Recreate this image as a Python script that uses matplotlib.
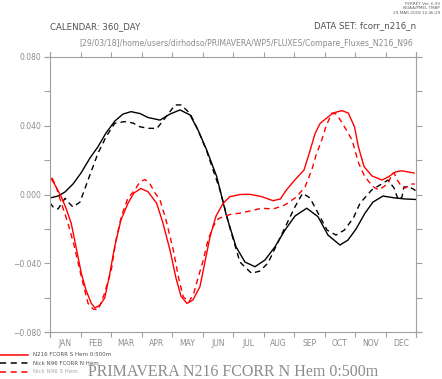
import numpy as np
import matplotlib
matplotlib.use('Agg')
from matplotlib import pyplot as plt
from matplotlib.ticker import FixedLocator, FuncFormatter, NullFormatter

# day of the 360-day year
n216_nh_day = [0, 7.9, 14.8, 22.6, 30.5, 39.3, 47.2, 55.1, 63.9, 71.8, 79.7, 88.5, 96.4, 108.2,
               118.0, 127.9, 137.7, 145.6, 154.1, 164.0, 173.8, 183.0, 191.8, 201.6, 211.5, 221.3,
               231.1, 241.0, 252.5, 263.6, 273.4, 285.2, 293.1, 301.0, 309.9, 317.7, 327.5, 339.3,
               349.2, 360.0]
n216_nh_val = [-0.0020, -0.0009, 0.0015, 0.0061, 0.0125, 0.0212, 0.0278, 0.0358, 0.0428, 0.0468,
               0.0482, 0.0471, 0.0448, 0.0433, 0.0468, 0.0492, 0.0463, 0.0375, 0.0259, 0.0104,
               -0.0129, -0.0305, -0.0393, -0.0420, -0.0381, -0.0304, -0.0207, -0.0125, -0.0080,
               -0.0129, -0.0236, -0.0294, -0.0265, -0.0201, -0.0108, -0.0044, -0.0009, -0.0020,
               -0.0026, -0.0029]

n96_nh_day = [0, 3.9, 7.9, 11.8, 14.8, 18.7, 22.6, 29.5, 37.4, 47.2, 55.1, 63.6, 73.4, 81.6,
              88.5, 96.4, 105.3, 113.2, 123.0, 128.9, 137.7, 145.6, 154.1, 167.2, 177.0, 186.8,
              198.3, 206.5, 214.4, 226.2, 241.0, 248.5, 255.7, 263.6, 272.5, 281.3, 289.5, 298.4,
              304.9, 316.4, 332.5, 338.4, 342.6, 346.2, 348.1, 353.0, 357.9, 360.0]
n96_nh_val = [-0.0049, -0.0079, -0.0084, -0.0049, -0.0022, -0.0049, -0.0073, -0.0044, 0.0084,
              0.0240, 0.0335, 0.0414, 0.0424, 0.0416, 0.0394, 0.0385, 0.0385, 0.0445, 0.0521,
              0.0521, 0.0472, 0.0375, 0.0253, 0.0026, -0.0195, -0.0393, -0.0459, -0.0445, -0.0399,
              -0.0253, -0.0071, 0.0007, -0.0020, -0.0108, -0.0207, -0.0236, -0.0207, -0.0137,
              -0.0051, 0.0026, 0.0084, 0.0038, -0.0032, -0.0015, 0.0044, 0.0044, 0.0030, 0.0020]

n216_sh_day = [0, 4.9, 11.1, 15.7, 20.9, 25.6, 30.8, 35.4, 40.6, 44.3, 49.2, 53.8, 58.0, 63.6,
               69.8, 76.7, 82.6, 89.5, 96.4, 104.9, 111.1, 118.0, 123.9, 128.8, 134.7, 140.6,
               147.5, 152.4, 157.4, 163.3, 170.3, 176.9, 186.8, 196.7, 207.9, 219.4, 226.6, 232.5,
               240.0, 249.9, 254.8, 260.8, 265.7, 278.3, 287.2, 293.4, 299.5, 303.4, 308.9, 316.7,
               326.6, 333.2, 339.7, 345.9, 358.0]
n216_sh_val = [0.0104, 0.0055, -0.0013, -0.0079, -0.0168, -0.0305, -0.0458, -0.0556, -0.0633,
               -0.0660, -0.0643, -0.0602, -0.0486, -0.0304, -0.0148, -0.0051, 0.0009, 0.0035,
               0.0016, -0.0051, -0.0166, -0.0323, -0.0486, -0.0591, -0.0634, -0.0614, -0.0536,
               -0.0393, -0.0246, -0.0125, -0.0051, -0.0013, 0.0000, 0.0001, -0.0012, -0.0036,
               -0.0026, 0.0026, 0.0079, 0.0143, 0.0236, 0.0356, 0.0414, 0.0474, 0.0488, 0.0474,
               0.0394, 0.0276, 0.0162, 0.0108, 0.0084, 0.0104, 0.0131, 0.0138, 0.0125]

n96_sh_day = [2.0, 5.9, 11.8, 17.7, 23.6, 30.8, 37.4, 42.3, 47.2, 53.1, 60.3, 64.9, 70.1, 76.7,
              83.4, 88.5, 93.4, 98.4, 103.3, 108.2, 114.1, 121.3, 126.9, 131.1, 136.7, 141.4,
              145.6, 150.8, 155.4, 160.4, 165.2, 170.3, 178.9, 186.8, 196.7, 208.2, 219.6, 231.1,
              242.7, 250.9, 257.5, 261.7, 267.3, 271.6, 277.2, 281.6, 287.7, 297.1, 303.6, 308.9,
              313.6, 318.9, 323.5, 327.8, 332.8, 336.1, 338.4, 341.6, 345.9, 349.8, 354.9, 358.8]
n96_sh_val = [0.0096, 0.0049, -0.0061, -0.0168, -0.0294, -0.0478, -0.0633, -0.0666, -0.0672,
              -0.0585, -0.0439, -0.0265, -0.0129, -0.0020, 0.0026, 0.0074, 0.0087, 0.0061, 0.0009,
              -0.0032, -0.0148, -0.0323, -0.0497, -0.0595, -0.0625, -0.0575, -0.0486, -0.0381,
              -0.0265, -0.0187, -0.0143, -0.0129, -0.0113, -0.0109, -0.0096, -0.0080, -0.0084,
              -0.0061, -0.0013, 0.0045, 0.0143, 0.0230, 0.0317, 0.0399, 0.0473, 0.0468, 0.0414,
              0.0317, 0.0182, 0.0113, 0.0074, 0.0041, 0.0026, 0.0044, 0.0065, 0.0119, 0.0127,
              0.0084, 0.0045, 0.0038, 0.0061, 0.0061]

months = ['JAN', 'FEB', 'MAR', 'APR', 'MAY', 'JUN', 'JUL', 'AUG', 'SEP', 'OCT', 'NOV', 'DEC']
legend_labels = ['N216 FCORR S Hem 0:500m', 'Nick N96 FCORR N Hem', 'Nick N96 S Hem']

axis_grey = '#a0a0a0'
text_grey = '#8c8c8c'
dash = (0, (4, 3))

fig = plt.figure(figsize=(4.42, 3.79), dpi=100)
ax = fig.add_axes([50 / 442, 1 - 332 / 379, 366 / 442, 275 / 379])

ax.plot(n216_nh_day, n216_nh_val, color='black', lw=1.0)
ax.plot(n96_nh_day, n96_nh_val, color='black', lw=1.0, ls=dash)
ax.plot(n216_sh_day, n216_sh_val, color='red', lw=1.0)
ax.plot(n96_sh_day, n96_sh_val, color='red', lw=1.0, ls=dash)

ax.set_xlim(0, 360)
ax.set_ylim(-0.08, 0.08)

# month boundaries carry ticks, month centres carry the labels
ax.xaxis.set_major_locator(FixedLocator(np.arange(0, 361, 30)))
ax.xaxis.set_major_formatter(NullFormatter())
ax.xaxis.set_minor_locator(FixedLocator(np.arange(15, 360, 30)))
ax.xaxis.set_minor_formatter(FuncFormatter(lambda v, p: months[int(v // 30)]))
ax.yaxis.set_major_locator(FixedLocator(np.arange(-0.08, 0.081, 0.04)))
ax.yaxis.set_minor_locator(FixedLocator(np.arange(-0.06, 0.07, 0.04)))
ax.yaxis.set_major_formatter(FuncFormatter(lambda v, p: f'{v:.3f}'.replace('-', '\u2212')))

ax.tick_params(which='both', direction='out', color=axis_grey, width=0.8,
               top=True, right=True, labelcolor=text_grey, labelsize=5.5)
ax.tick_params(axis='y', which='both', length=4, pad=2)
ax.tick_params(axis='x', which='major', length=3.5)
ax.tick_params(axis='x', which='minor', length=0, pad=5)
for s in ax.spines.values():
    s.set_color(axis_grey)
    s.set_linewidth(0.8)
# ferret-style axes overshoot the corners a little
ax.spines['bottom'].set_bounds(-5, 365)
ax.spines['top'].set_bounds(-5, 365)
ax.spines['left'].set_bounds(-0.083, 0.083)
ax.spines['right'].set_bounds(-0.083, 0.083)

# header
fig.text(50 / 442, 1 - 27 / 379, 'CALENDAR: 360_DAY', fontsize=6.2, color='#505050', va='center')
fig.text(416 / 442, 1 - 26 / 379, 'DATA SET: fcorr_n216_n', fontsize=6.2, color='#505050',
         va='center', ha='right')
fig.text(246 / 442, 1 - 44 / 379,
         '[29/03/18]/home/users/dirhodso/PRIMAVERA/WP5/FLUXES/Compare_Fluxes_N216_N96',
         fontsize=5.6, color=text_grey, va='center', ha='center')
fig.text(440 / 442, 1 - 2 / 379, 'FERRET Ver. 6.93\nNOAA/PMEL TMAP\n29-MAR-2018 12:46:29',
         fontsize=3, color='#606060', va='top', ha='right', linespacing=1.1)

# legend below the axes
leg_styles = [('red', '-'), ('black', dash), ('red', dash)]
leg_colors = ['#505050', '#505050', '#a8a8a8']
for i, (lab, (c, ls)) in enumerate(zip(legend_labels, leg_styles)):
    yy = 1 - (355 + 8.3 * i) / 379
    fig.add_artist(plt.Line2D([0, 28 / 442], [yy, yy], color=c, ls=ls, lw=1.1,
                              transform=fig.transFigure))
    fig.text(33 / 442, yy, lab, fontsize=4.0, color=leg_colors[i], va='center')

fig.text(233 / 442, 1 - 372 / 379, 'PRIMAVERA N216 FCORR N Hem 0:500m',
         family='Liberation Serif', fontsize=11.5, color=text_grey, va='center', ha='center')

fig.savefig('out.png', dpi=100)
